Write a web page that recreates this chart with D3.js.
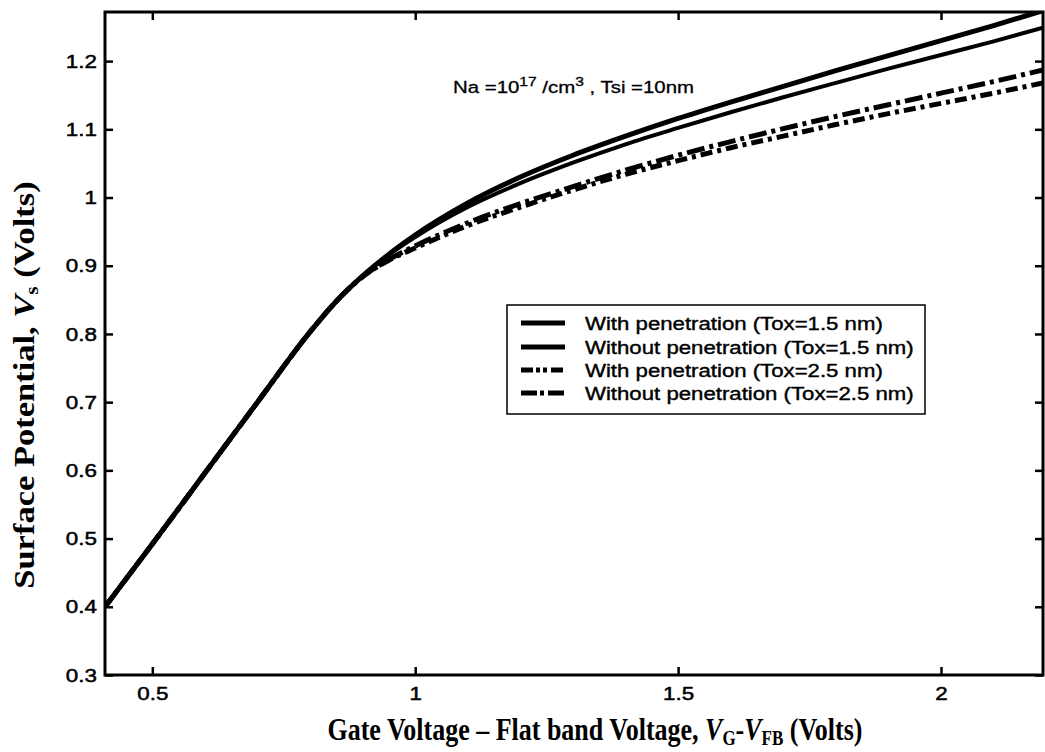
<!DOCTYPE html>
<html>
<head>
<meta charset="utf-8">
<script src="https://cdn.jsdelivr.net/npm/d3@7"></script>
<style>
html,body{margin:0;padding:0;background:#fff;}
svg{display:block;}
</style>
</head>
<body>
<svg id="chart" width="1045" height="752"></svg>
<script>
// ---- data ----
const xVals = [0.41,0.5,0.6,0.7,0.8,0.85,0.9,0.95,1.0,1.1,1.2,1.3,1.4,1.5,1.6,1.7,1.8,1.9,2.0,2.1,2.194];
const withPen15    = [0.400,0.492,0.596,0.700,0.803,0.848,0.885,0.917,0.945,0.992,1.030,1.062,1.090,1.116,1.140,1.163,1.186,1.208,1.230,1.252,1.274];
const withoutPen15 = [0.400,0.492,0.596,0.700,0.803,0.848,0.885,0.916,0.942,0.986,1.021,1.051,1.078,1.102,1.125,1.147,1.168,1.189,1.209,1.229,1.249];
const withPen25    = [0.400,0.492,0.596,0.700,0.803,0.848,0.884,0.909,0.929,0.963,0.991,1.016,1.040,1.062,1.082,1.101,1.119,1.136,1.153,1.170,1.187];
const withoutPen25 = [0.400,0.492,0.596,0.700,0.803,0.848,0.884,0.908,0.926,0.959,0.986,1.011,1.034,1.054,1.073,1.090,1.107,1.123,1.138,1.153,1.168];
const seriesNames = ["With penetration (Tox=1.5 nm)","Without penetration (Tox=1.5 nm)","With penetration (Tox=2.5 nm)","Without penetration (Tox=2.5 nm)"];
const xTicks = [0.5,1,1.5,2];
const yTicks = [0.3,0.4,0.5,0.6,0.7,0.8,0.9,1,1.1,1.2];

const seriesData = [withPen15, withoutPen15, withPen25, withoutPen25];
const styles = [
  {w:5.0, dash:null, lgDash:null},
  {w:4.0, dash:null, lgDash:null},
  {w:5.0, dash:"18,5,4,5", lgDash:"12,3,4,3,4,4"},
  {w:5.0, dash:"12,5,4,5", lgDash:"16,3,4,4"}
];

const L=105, R=1043, T=12, B=675;
const svg = d3.select("#chart");
const x = d3.scaleLinear().domain([0.41,2.194]).range([L,R]);
const y = d3.scaleLinear().domain([0.3,1.272]).range([B,T]);

svg.append("defs").append("clipPath").attr("id","clip")
  .append("rect").attr("x",L).attr("y",T).attr("width",R-L).attr("height",B-T);

const line = d3.line().x(d=>x(d[0])).y(d=>y(d[1])).curve(d3.curveMonotoneX);
const g = svg.append("g").attr("clip-path","url(#clip)");
seriesData.forEach((s,i)=>{
  g.append("path")
   .datum(xVals.map((v,k)=>[v,s[k]]))
   .attr("d",line)
   .attr("fill","none").attr("stroke","#000")
   .attr("stroke-width",styles[i].w)
   .attr("stroke-dasharray",styles[i].dash)
   .attr("stroke-linejoin","round");
});

// axes (ticks inward, box)
const tickLen = 8;
const sans = "'Liberation Sans',Arial,sans-serif";
const axB = d3.axisBottom(x).tickValues(xTicks).tickSize(-tickLen).tickPadding(12).tickFormat(d=>String(d));
const axT = d3.axisTop(x).tickValues(xTicks).tickSize(-tickLen).tickFormat("");
const axLf = d3.axisLeft(y).tickValues(yTicks).tickSize(-tickLen).tickPadding(7).tickFormat(d=>String(+d.toFixed(1)));
const axRt = d3.axisRight(y).tickValues(yTicks).tickSize(-tickLen).tickFormat("");

function styleAxis(sel){
  sel.select(".domain").remove();
  sel.selectAll(".tick line").attr("stroke","#000").attr("stroke-width",2.5);
  sel.selectAll(".tick text").attr("fill","#000").attr("stroke","#000").attr("stroke-width",0.5)
    .style("font-family",sans).style("font-size","19px");
}
svg.append("g").attr("transform",`translate(0,${B})`).call(axB).call(styleAxis)
  .selectAll(".tick text").attr("transform","scale(1.18,1)");
svg.append("g").attr("transform",`translate(0,${T})`).call(axT).call(styleAxis);
const gl = svg.append("g").attr("transform",`translate(${L},0)`).call(axLf).call(styleAxis);
gl.selectAll(".tick text").attr("x",-8/1.18).attr("transform","scale(1.18,1)");
svg.append("g").attr("transform",`translate(${R},0)`).call(axRt).call(styleAxis);

svg.append("rect").attr("x",L).attr("y",T).attr("width",R-L).attr("height",B-T)
  .attr("fill","none").attr("stroke","#000").attr("stroke-width",3);

// annotation
const ann = svg.append("text").attr("transform","translate(453,93) scale(1.2,1)")
  .style("font-family",sans).style("font-size","17px").attr("fill","#000")
  .attr("stroke","#000").attr("stroke-width",0.3);
ann.append("tspan").text("Na =10");
ann.append("tspan").attr("dy",-7).style("font-size","13px").text("17");
ann.append("tspan").attr("dy",7).text(" /cm");
ann.append("tspan").attr("dy",-7).style("font-size","13px").text("3");
ann.append("tspan").attr("dy",7).text(" , Tsi =10nm");

// legend
const lg = svg.append("g");
lg.append("rect").attr("x",507).attr("y",305).attr("width",418).attr("height",109)
  .attr("fill","#fff").attr("stroke","#000").attr("stroke-width",1.5);
const rowY = [323,347,370,393];
seriesNames.forEach((n,i)=>{
  lg.append("line").attr("x1",521).attr("x2",565).attr("y1",rowY[i]).attr("y2",rowY[i])
    .attr("stroke","#000").attr("stroke-width",5)
    .attr("stroke-dasharray",styles[i].lgDash);
  lg.append("text").attr("transform",`translate(585,${rowY[i]}) scale(1.2,1)`).attr("dy","0.36em")
    .style("font-family",sans).style("font-size","18.5px")
    .attr("fill","#000").attr("stroke","#000").attr("stroke-width",0.4).text(n);
});

// axis titles
const serif = "'Liberation Serif','Times New Roman',serif";
const xt = svg.append("text").attr("transform","translate(595,740) scale(1,1.2)").attr("text-anchor","middle")
  .style("font-family",serif).style("font-size","26px").style("font-weight","bold").attr("fill","#000");
xt.append("tspan").text("Gate Voltage \u2013 Flat band Voltage, ");
xt.append("tspan").style("font-style","italic").text("V");
xt.append("tspan").attr("dy",4).style("font-size","17px").text("G");
xt.append("tspan").attr("dy",-4).text("-");
xt.append("tspan").style("font-style","italic").text("V");
xt.append("tspan").attr("dy",4).style("font-size","17px").text("FB");
xt.append("tspan").attr("dy",-4).text(" (Volts)");

const yt = svg.append("text").attr("transform","translate(34,385) rotate(-90) scale(1.19,1)").attr("text-anchor","middle")
  .style("font-family",serif).style("font-size","29px").style("font-weight","bold").attr("fill","#000");
yt.append("tspan").text("Surface Potential, ");
yt.append("tspan").style("font-style","italic").text("V");
yt.append("tspan").attr("dy",4).style("font-size","18px").text("s");
yt.append("tspan").attr("dy",-4).text(" (Volts)");
</script>
</body>
</html>
